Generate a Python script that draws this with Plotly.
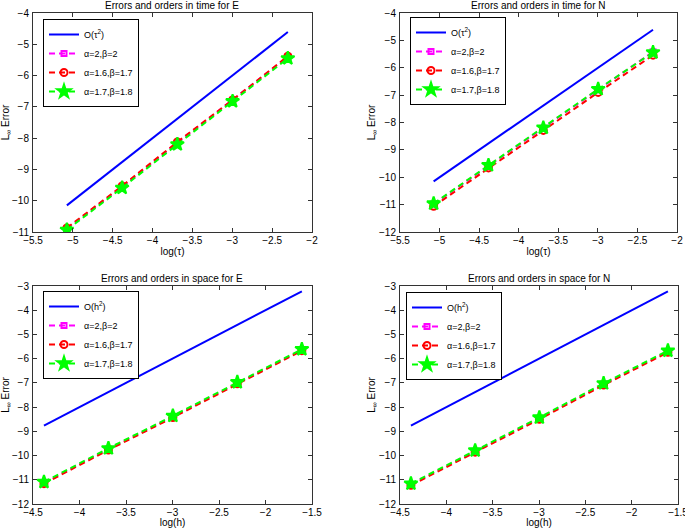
import plotly.graph_objects as go

# ---------------- data ----------------
log_tau = [-5.075, -4.382, -3.689, -2.996, -2.303]
log_h = [-4.382, -3.689, -2.996, -2.303, -1.609]

ref_time = [-10.15, -8.76, -7.38, -5.99, -4.61]
ref_space = [-8.76, -7.38, -5.99, -4.61, -3.22]

E_time_a2 = [-10.89, -9.56, -8.15, -6.79, -5.40]
E_time_a16 = [-10.87, -9.53, -8.12, -6.78, -5.38]
E_time_a17 = [-10.93, -9.59, -8.20, -6.82, -5.45]

N_time_a2 = [-10.98, -9.58, -8.21, -6.80, -5.42]
N_time_a16 = [-11.06, -9.66, -8.29, -6.90, -5.54]
N_time_a17 = [-10.96, -9.56, -8.19, -6.78, -5.44]

E_space_a2 = [-11.12, -9.73, -8.39, -7.00, -5.64]
E_space_a16 = [-11.16, -9.77, -8.43, -7.04, -5.67]
E_space_a17 = [-11.09, -9.70, -8.36, -6.97, -5.61]

N_space_a2 = [-11.19, -9.82, -8.46, -7.05, -5.70]
N_space_a16 = [-11.23, -9.86, -8.50, -7.09, -5.74]
N_space_a17 = [-11.16, -9.79, -8.43, -7.02, -5.67]

series_names = ["α=2,β=2", "α=1.6,β=1.7", "α=1.7,β=1.8"]
titles = ["Errors and orders in time for E", "Errors and orders in time for N",
          "Errors and orders in space for E", "Errors and orders in space for N"]
xlabels = ["log(τ)", "log(τ)", "log(h)", "log(h)"]
ref_names = ["O(τ<sup>2</sup>)", "O(τ<sup>2</sup>)", "O(h<sup>2</sup>)", "O(h<sup>2</sup>)"]

panels = [
    (log_tau, ref_time, [E_time_a2, E_time_a16, E_time_a17]),
    (log_tau, ref_time, [N_time_a2, N_time_a16, N_time_a17]),
    (log_h, ref_space, [E_space_a2, E_space_a16, E_space_a17]),
    (log_h, ref_space, [N_space_a2, N_space_a16, N_space_a17]),
]

# ---------------- layout geometry ----------------
W, H = 685, 528
px = lambda a, b: [a / W, b / W]
py = lambda top, bot: [1 - bot / H, 1 - top / H]
domains = [
    (px(33, 312), py(13, 232)),
    (px(400, 677), py(13, 232)),
    (px(33, 312), py(286, 504)),
    (px(400, 678), py(286, 504)),
]
xranges = [[-5.5, -2], [-5.5, -2], [-4.5, -1.5], [-4.5, -1.5]]
yranges = [[-11, -4], [-12, -4], [-12, -3], [-12, -3]]
legend_pos = [(43, 19), (410, 17), (43, 291), (406, 292)]
title_y = [6, 6, 278, 278]

FONT = "Liberation Sans, Arial, sans-serif"
styles = [
    dict(color="#ff00ff", symbol="square-open", size=5),
    dict(color="#ff0000", symbol="circle-open", size=7),
    dict(color="#00ff00", symbol="star", size=10),
]

fig = go.Figure()
layout = dict(width=W, height=H, margin=dict(l=0, r=0, t=0, b=0, autoexpand=False),
              paper_bgcolor="white", plot_bgcolor="white",
              font=dict(family=FONT, size=10, color="black"))
annotations = []

for i, (xs, ref, sers) in enumerate(panels):
    k = i + 1
    xa = "x" if k == 1 else f"x{k}"
    ya = "y" if k == 1 else f"y{k}"
    lg = "legend" if k == 1 else f"legend{k}"
    fig.add_trace(go.Scatter(x=xs, y=ref, mode="lines", name=ref_names[i],
                             line=dict(color="#0000ff", width=2),
                             xaxis=xa, yaxis=ya, legend=lg))
    for s, vals, st in zip(series_names, sers, styles):
        marker = dict(color=st["color"], symbol=st["symbol"], size=st["size"],
                      line=dict(color=st["color"], width=2))
        fig.add_trace(go.Scatter(x=xs, y=vals, mode="lines+markers", name=s,
                                 line=dict(color=st["color"], width=2, dash="6px,4px"),
                                 marker=marker, xaxis=xa, yaxis=ya, legend=lg))
    axcommon = dict(showgrid=False, zeroline=False, showline=True, linecolor="#333",
                    linewidth=1, mirror="allticks", ticks="inside", ticklen=4,
                    tickcolor="#333", tickfont=dict(size=10, family=FONT),
                    automargin=False, ticklabeloverflow="allow")
    xkey = "xaxis" if k == 1 else f"xaxis{k}"
    ykey = "yaxis" if k == 1 else f"yaxis{k}"
    layout[xkey] = dict(domain=domains[i][0], range=xranges[i], dtick=0.5, tick0=0,
                        anchor=ya, ticklabelstandoff=-1,
                        title=dict(text=xlabels[i], standoff=0, font=dict(size=10)),
                        **axcommon)
    layout[ykey] = dict(domain=domains[i][1], range=yranges[i], dtick=1, tick0=0,
                        anchor=xa, ticklabelstandoff=1,
                        title=dict(text="L<sub>∞</sub> Error", standoff=1,
                                   font=dict(size=10)), **axcommon)
    lx, ly = legend_pos[i]
    layout[lg] = dict(x=lx / W, y=1 - ly / H, xanchor="left", yanchor="top",
                      bgcolor="white", bordercolor="black", borderwidth=1,
                      font=dict(size=9, family=FONT), tracegroupgap=0)
    annotations.append(dict(text=titles[i], x=sum(domains[i][0]) / 2,
                            y=1 - title_y[i] / H, xref="paper", yref="paper",
                            showarrow=False, xanchor="center", yanchor="middle",
                            font=dict(size=10, family=FONT)))

layout["annotations"] = annotations
fig.update_layout(**layout)
fig.write_html("out.html", config={"displayModeBar": False},
               post_script="document.body.style.margin='0';document.body.style.padding='0';")
